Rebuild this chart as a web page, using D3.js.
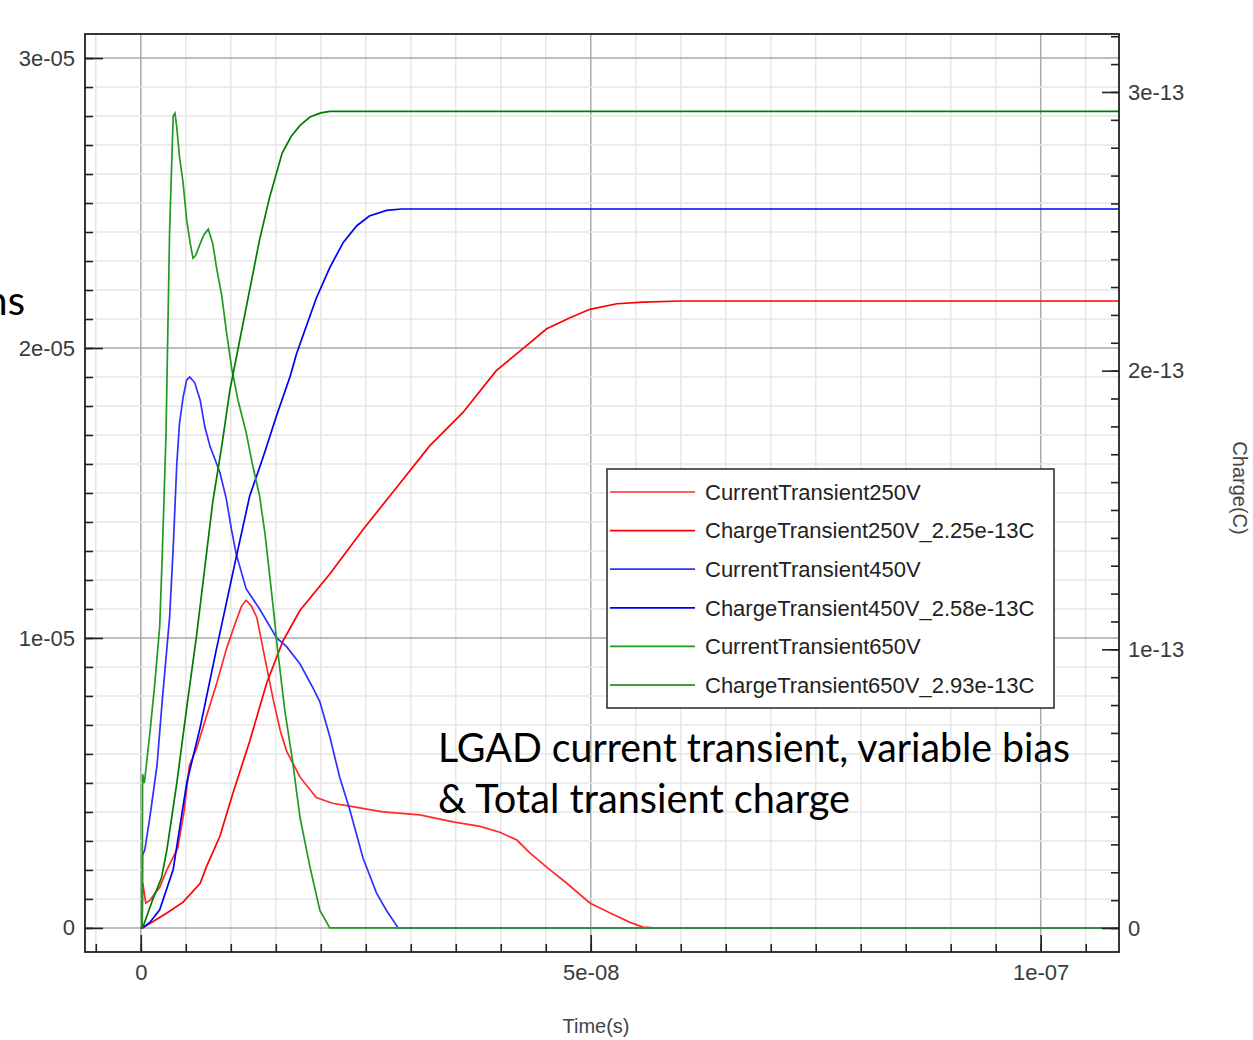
<!DOCTYPE html>
<html>
<head>
<meta charset="utf-8">
<script src="https://cdn.jsdelivr.net/npm/d3@7"></script>
<style>
  body { margin: 0; background: #fff; }
  .axis path.domain { display: none; }
  .axis line { stroke: #222; stroke-width: 1.6; }
  .axis text { font-family: "Liberation Sans", Arial, sans-serif; font-size: 22px; fill: #3a3a3a; }
  .title { font-family: "Liberation Sans", Arial, sans-serif; font-size: 20px; fill: #444; }
  .legend text { font-family: "Liberation Sans", Arial, sans-serif; font-size: 22px; fill: #222; }
  .annot { font-family: Lato, "Open Sans", sans-serif; font-size: 40px; fill: #000; }
</style>
</head>
<body>
<div id="chart"></div>
<script>
// time in ns, current in uA, charge in 1e-14 C
var tRedI = [0, 0.15, 0.2, 0.25, 0.55, 1.0, 2.1, 2.9, 4.1, 4.8, 5.4, 6.2, 7.3, 8.4, 9.5, 10.6, 11.2, 11.7, 12.3, 12.9, 13.6, 14.7, 15.5, 16.2, 17.7, 19.5, 21.3, 23.2, 26.9, 31.0, 34.7, 37.7, 39.9, 41.8, 43.2, 45.1, 47.3, 49.9, 52.1, 54.3, 55.8, 57.0, 108.7];
var redI  = [0, 0, 1.55, 1.5, 0.86, 0.95, 1.4, 2.0, 2.75, 4.0, 5.6, 6.2, 7.3, 8.4, 9.6, 10.6, 11.1, 11.3, 11.1, 10.7, 9.6, 7.9, 6.8, 6.1, 5.2, 4.5, 4.3, 4.2, 4.0, 3.9, 3.66, 3.5, 3.3, 3.03, 2.6, 2.1, 1.55, 0.86, 0.52, 0.2, 0.03, 0, 0];

var tRedQ = [0, 0.2, 2.9, 4.7, 6.6, 7.3, 8.8, 10.2, 12.1, 14.0, 15.8, 17.7, 21.0, 24.7, 28.4, 32.1, 35.8, 39.5, 42.5, 45.1, 47.7, 49.9, 52.9, 55.8, 60, 108.7];
var redQ  = [0, 0, 0.54, 0.93, 1.6, 2.2, 3.3, 4.8, 6.7, 8.8, 10.3, 11.4, 12.7, 14.3, 15.8, 17.3, 18.5, 20.0, 20.8, 21.5, 21.9, 22.2, 22.4, 22.46, 22.5, 22.5];

var tBlueI = [0, 0.15, 0.2, 0.45, 1.0, 1.8, 2.4, 3.2, 3.6, 4.0, 4.3, 4.7, 5.1, 5.44, 6.0, 6.6, 7.1, 7.7, 8.2, 8.8, 9.5, 10.1, 10.6, 11.7, 13.2, 15.1, 16.2, 17.7, 19.1, 19.9, 21.0, 22.1, 23.2, 24.7, 26.2, 27.3, 28.6, 108.7];
var blueI  = [0, 0, 2.5, 2.7, 3.8, 5.6, 7.9, 10.7, 13.1, 16.0, 17.4, 18.3, 18.9, 19.0, 18.8, 18.2, 17.3, 16.6, 16.2, 15.7, 14.8, 13.7, 12.9, 11.7, 11.0, 10.0, 9.7, 9.1, 8.3, 7.8, 6.6, 5.2, 4.1, 2.4, 1.2, 0.6, 0, 0];

var tBlueQ = [0, 0.2, 1.0, 2.1, 3.6, 5.1, 6.6, 8.4, 10.6, 12.1, 13.6, 15.1, 16.6, 17.3, 18.4, 19.5, 21.0, 22.5, 24.0, 25.4, 27.3, 29, 108.7];
var blueQ  = [0, 0, 0.2, 0.65, 2.1, 5.2, 7.2, 10.0, 13.3, 15.5, 16.9, 18.4, 19.8, 20.6, 21.6, 22.6, 23.7, 24.6, 25.2, 25.55, 25.75, 25.8, 25.8];

var tGreenI = [0, 0.15, 0.2, 0.4, 1.0, 1.55, 2.1, 2.4, 2.8, 3.0, 3.2, 3.4, 3.6, 3.8, 4.0, 4.3, 4.7, 5.1, 5.5, 5.8, 6.1, 6.6, 7.0, 7.5, 8.0, 8.4, 9.0, 9.5, 10.1, 10.8, 11.7, 12.4, 13.2, 13.8, 14.7, 15.2, 16.0, 16.8, 17.7, 18.8, 19.9, 21.0, 108.7];
var greenI  = [0, 0, 5.3, 5.0, 6.7, 8.4, 10.4, 13.0, 17.0, 20.5, 24.0, 26.0, 28.0, 28.1, 27.6, 26.6, 25.7, 24.4, 23.6, 23.1, 23.2, 23.6, 23.9, 24.1, 23.6, 22.8, 21.8, 20.6, 19.3, 18.2, 17.1, 16.0, 14.9, 13.6, 11.1, 9.6, 7.5, 5.9, 3.8, 2.1, 0.6, 0, 0];

var tGreenQ = [0, 0.2, 1.3, 2.3, 2.9, 4.0, 5.1, 6.2, 7.1, 8.0, 9.0, 9.9, 11.0, 12.1, 13.2, 14.3, 15.7, 16.7, 17.7, 18.8, 20.0, 21, 108.7];
var greenQ  = [0, 0, 1.0, 1.8, 2.8, 5.2, 7.9, 10.5, 12.9, 15.3, 17.3, 19.3, 21.1, 22.9, 24.7, 26.2, 27.8, 28.4, 28.8, 29.1, 29.25, 29.3, 29.3];

var seriesNames = ["CurrentTransient250V", "ChargeTransient250V_2.25e-13C",
                   "CurrentTransient450V", "ChargeTransient450V_2.58e-13C",
                   "CurrentTransient650V", "ChargeTransient650V_2.93e-13C"];
var seriesColors = ["#ff2a2a", "#ff0000", "#3030ff", "#0000f0", "#229a22", "#007c00"];

var xTickVals = [0, 5e-8, 1e-7], xTickLabels = ["0", "5e-08", "1e-07"];
var iTickVals = [0, 1e-5, 2e-5, 3e-5], iTickLabels = ["0", "1e-05", "2e-05", "3e-05"];
var qTickVals = [0, 1e-13, 2e-13, 3e-13], qTickLabels = ["0", "1e-13", "2e-13", "3e-13"];

var width = 1253, height = 1040;
var L = 85, R = 1119, T = 34, B = 952;

var svg = d3.select("#chart").append("svg")
    .attr("width", width).attr("height", height);

var x = d3.scaleLinear().domain([-6.2e-9, 108.7e-9]).range([L, R]);
var yI = d3.scaleLinear().domain([-0.83e-6, 30.83e-6]).range([B, T]);
var yQ = d3.scaleLinear().domain([-0.861e-14, 32.08e-14]).range([B, T]);

// grid
var xGrid = d3.range(-1, 22).map(function(i) { return { v: i * 5e-9, major: i % 10 == 0 }; });
var yGrid = d3.range(0, 31).map(function(i) { return { v: i * 1e-6, major: i % 10 == 0 }; });

var grid = svg.append("g");
grid.selectAll(".vg").data(xGrid).enter().append("line")
    .attr("x1", function(d) { return x(d.v); }).attr("x2", function(d) { return x(d.v); })
    .attr("y1", T).attr("y2", B)
    .attr("stroke", function(d) { return d.major ? "#a9a9a9" : "#e6e6e6"; })
    .attr("stroke-width", 1.5);
grid.selectAll(".hg").data(yGrid).enter().append("line")
    .attr("y1", function(d) { return yI(d.v); }).attr("y2", function(d) { return yI(d.v); })
    .attr("x1", L).attr("x2", R)
    .attr("stroke", function(d) { return d.major ? "#a9a9a9" : "#e6e6e6"; })
    .attr("stroke-width", 1.5);

// curves
svg.append("clipPath").attr("id", "plotclip").append("rect")
    .attr("x", L).attr("y", T).attr("width", R - L).attr("height", B - T);

function pairs(t, v) { return t.map(function(d, i) { return [d, v[i]]; }); }

var currentLine = d3.line()
    .x(function(d) { return x(d[0] * 1e-9); })
    .y(function(d) { return yI(d[1] * 1e-6); });
var chargeLine = d3.line()
    .x(function(d) { return x(d[0] * 1e-9); })
    .y(function(d) { return yQ(d[1] * 1e-14); });

var curves = [
    currentLine(pairs(tRedI, redI)), chargeLine(pairs(tRedQ, redQ)),
    currentLine(pairs(tBlueI, blueI)), chargeLine(pairs(tBlueQ, blueQ)),
    currentLine(pairs(tGreenI, greenI)), chargeLine(pairs(tGreenQ, greenQ))
];

svg.append("g").attr("clip-path", "url(#plotclip)")
    .selectAll("path").data(curves).enter().append("path")
    .attr("d", function(d) { return d; })
    .attr("fill", "none")
    .attr("stroke", function(d, i) { return seriesColors[i]; })
    .attr("stroke-width", 1.7);

// axes
var xMinor = d3.range(-1, 22).map(function(i) { return i * 5e-9; });
var iMinor = d3.range(0, 31).map(function(i) { return i * 1e-6; });
var qMinor = d3.range(0, 33).map(function(i) { return i * 1e-14; });

svg.append("g").attr("class", "axis").attr("transform", "translate(0," + B + ")")
    .call(d3.axisBottom(x).tickValues(xMinor).tickSize(-8).tickSizeOuter(0).tickFormat(""));
svg.append("g").attr("class", "axis").attr("transform", "translate(0," + B + ")")
    .call(d3.axisBottom(x).tickValues(xTickVals).tickSize(-17).tickSizeOuter(0).tickPadding(12)
        .tickFormat(function(d, i) { return xTickLabels[i]; }));

svg.append("g").attr("class", "axis").attr("transform", "translate(" + L + ",0)")
    .call(d3.axisLeft(yI).tickValues(iMinor).tickSize(-8).tickSizeOuter(0).tickFormat(""));
svg.append("g").attr("class", "axis").attr("transform", "translate(" + L + ",0)")
    .call(d3.axisLeft(yI).tickValues(iTickVals).tickSize(-18).tickSizeOuter(0).tickPadding(10)
        .tickFormat(function(d, i) { return iTickLabels[i]; }));

svg.append("g").attr("class", "axis").attr("transform", "translate(" + R + ",0)")
    .call(d3.axisRight(yQ).tickValues(qMinor).tickSize(-8).tickSizeOuter(0).tickFormat(""));
svg.append("g").attr("class", "axis").attr("transform", "translate(" + R + ",0)")
    .call(d3.axisRight(yQ).tickValues(qTickVals).tickSize(-17).tickSizeOuter(0).tickPadding(9)
        .tickFormat(function(d, i) { return qTickLabels[i]; }));

// frame
svg.append("rect").attr("x", L).attr("y", T).attr("width", R - L).attr("height", B - T)
    .attr("fill", "none").attr("stroke", "#222").attr("stroke-width", 1.8);

svg.append("text").attr("class", "title").attr("x", 596).attr("y", 1026)
    .attr("text-anchor", "middle").attr("dy", "0.35em").text("Time(s)");
svg.append("text").attr("class", "title")
    .attr("transform", "translate(1240,488) rotate(90)")
    .attr("text-anchor", "middle").attr("dy", "0.35em").text("Charge(C)");

// legend
var legend = svg.append("g").attr("class", "legend");
legend.append("rect").attr("x", 607).attr("y", 469).attr("width", 447).attr("height", 239)
    .attr("fill", "#fff").attr("stroke", "#333").attr("stroke-width", 1.6);
var rows = legend.selectAll(".row").data(seriesNames).enter().append("g")
    .attr("transform", function(d, i) { return "translate(0," + (492 + i * 38.6) + ")"; });
rows.append("line").attr("x1", 610).attr("x2", 695)
    .attr("stroke", function(d, i) { return seriesColors[i]; }).attr("stroke-width", 1.7);
rows.append("text").attr("x", 705).attr("dy", "0.35em").text(function(d) { return d; });

// slide overlay text
svg.append("text").attr("class", "annot").attr("x", 438).attr("y", 762)
    .attr("textLength", 632).attr("lengthAdjust", "spacingAndGlyphs")
    .text("LGAD current transient, variable bias");
svg.append("text").attr("class", "annot").attr("x", 438).attr("y", 813)
    .attr("textLength", 412).attr("lengthAdjust", "spacingAndGlyphs")
    .text("& Total transient charge");
svg.append("text").attr("class", "annot").attr("x", 25).attr("y", 315)
    .attr("text-anchor", "end").text("ns");
</script>
</body>
</html>
